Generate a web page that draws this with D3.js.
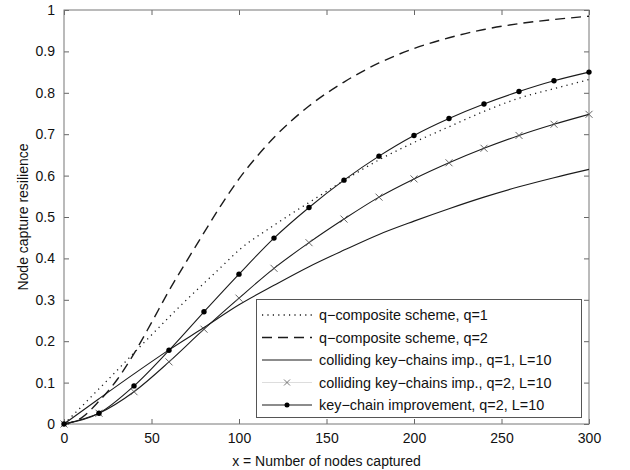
<!doctype html>
<html lang="en">
<head>
<meta charset="utf-8">
<title>Node capture resilience</title>
<script src="https://cdn.jsdelivr.net/npm/d3@7"></script>
<style>
body { margin: 0; background: #fff; }
text { font-family: "Liberation Sans", Arial, sans-serif; fill: #111; }
</style>
</head>
<body>
<script>

// values
var xDotted = [0, 10, 20, 30, 40, 50, 60, 70, 80, 90, 100, 120, 140, 160, 180, 200, 220, 240, 260, 280, 300];
var qComp1 = [0, 0.042, 0.085, 0.128, 0.172, 0.215, 0.258, 0.3, 0.34, 0.38, 0.42, 0.48, 0.535, 0.588, 0.638, 0.68, 0.718, 0.755, 0.787, 0.81, 0.832];

var xDashed = [0, 10, 20, 30, 40, 50, 60, 70, 80, 90, 100, 110, 120, 140, 160, 180, 200, 220, 240, 260, 280, 300];
var qComp2 = [0, 0.015, 0.055, 0.105, 0.17, 0.245, 0.322, 0.393, 0.462, 0.53, 0.592, 0.645, 0.692, 0.768, 0.826, 0.872, 0.907, 0.933, 0.953, 0.967, 0.977, 0.985];

var xMarks = [0, 20, 40, 60, 80, 100, 120, 140, 160, 180, 200, 220, 240, 260, 280, 300];
var collide1 = [0, 0.061, 0.121, 0.179, 0.233, 0.288, 0.335, 0.38, 0.42, 0.458, 0.49, 0.52, 0.548, 0.573, 0.595, 0.615];
var collide2 = [0, 0.026, 0.078, 0.15, 0.229, 0.304, 0.376, 0.438, 0.495, 0.548, 0.592, 0.631, 0.666, 0.697, 0.724, 0.748];
var keyChain = [0, 0.026, 0.092, 0.178, 0.271, 0.362, 0.449, 0.523, 0.589, 0.647, 0.697, 0.738, 0.773, 0.803, 0.829, 0.85];

var xTicks = [0, 50, 100, 150, 200, 250, 300];
var yTicks = [0, 0.1, 0.2, 0.3, 0.4, 0.5, 0.6, 0.7, 0.8, 0.9, 1];

var legendLabels = [
    "q\u2212composite scheme, q=1",
    "q\u2212composite scheme, q=2",
    "colliding key\u2212chains imp., q=1, L=10",
    "colliding key\u2212chains imp., q=2, L=10",
    "key\u2212chain improvement, q=2, L=10"
];

var width = 630, height = 470;
var margin = { left: 64, right: 41, top: 10, bottom: 46 };

var svg = d3.select("body").append("svg")
    .attr("width", width)
    .attr("height", height);

var x = d3.scaleLinear().domain([0, 300]).range([margin.left, width - margin.right]);
var y = d3.scaleLinear().domain([0, 1]).range([height - margin.bottom, margin.top]);

function zip(xs, ys) {
    return xs.map(function(d, i) { return [d, ys[i]]; });
}

var line = d3.line()
    .x(function(d) { return x(d[0]); })
    .y(function(d) { return y(d[1]); })
    .curve(d3.curveMonotoneX);

// frame + inward ticks, matlab style
var tickLen = 5;

svg.append("g")
    .attr("transform", "translate(0," + y(0) + ")")
    .call(d3.axisBottom(x).tickValues(xTicks).tickSizeInner(-tickLen).tickSizeOuter(0).tickPadding(9))
    .call(function(g) { g.select(".domain").remove(); });

svg.append("g")
    .attr("transform", "translate(0," + y(1) + ")")
    .call(d3.axisTop(x).tickValues(xTicks).tickSizeInner(-tickLen).tickSizeOuter(0).tickFormat(""))
    .call(function(g) { g.select(".domain").remove(); });

svg.append("g")
    .attr("transform", "translate(" + x(0) + ",0)")
    .call(d3.axisLeft(y).tickValues(yTicks).tickSizeInner(-tickLen).tickSizeOuter(0).tickPadding(9).tickFormat(d3.format("~g")))
    .call(function(g) { g.select(".domain").remove(); });

svg.append("g")
    .attr("transform", "translate(" + x(300) + ",0)")
    .call(d3.axisRight(y).tickValues(yTicks).tickSizeInner(-tickLen).tickSizeOuter(0).tickFormat(""))
    .call(function(g) { g.select(".domain").remove(); });

svg.selectAll(".tick line").attr("stroke", "#666");
svg.selectAll(".tick text")
    .style("font-family", "'Liberation Sans', Arial, sans-serif")
    .style("font-size", "14px")
    .attr("fill", "#111");

svg.append("rect")
    .attr("x", x(0)).attr("y", y(1))
    .attr("width", x(300) - x(0)).attr("height", y(0) - y(1))
    .attr("fill", "none").attr("stroke", "#777").attr("stroke-width", 1);

// curves
var ink = "#1b1b1b";

svg.append("path").datum(zip(xDotted, qComp1))
    .attr("d", line).attr("fill", "none").attr("stroke", ink)
    .attr("stroke-width", 1.3).attr("stroke-dasharray", "1.2,4.2");

svg.append("path").datum(zip(xDashed, qComp2))
    .attr("d", line).attr("fill", "none").attr("stroke", ink)
    .attr("stroke-width", 1.4).attr("stroke-dasharray", "10,6");

svg.append("path").datum(zip(xMarks, collide1))
    .attr("d", line).attr("fill", "none").attr("stroke", ink).attr("stroke-width", 1.1);

svg.append("path").datum(zip(xMarks, collide2))
    .attr("d", line).attr("fill", "none").attr("stroke", ink).attr("stroke-width", 1.1);

svg.append("path").datum(zip(xMarks, keyChain))
    .attr("d", line).attr("fill", "none").attr("stroke", ink).attr("stroke-width", 1.1);

function cross(g, cx, cy, s, color) {
    g.append("path")
        .attr("d", "M" + (cx - s) + "," + (cy - s) + "L" + (cx + s) + "," + (cy + s) +
                   "M" + (cx - s) + "," + (cy + s) + "L" + (cx + s) + "," + (cy - s))
        .attr("stroke", color).attr("stroke-width", 0.9).attr("fill", "none");
}

var crosses = svg.append("g");
zip(xMarks, collide2).forEach(function(d) {
    cross(crosses, x(d[0]), y(d[1]), 3.5, "#555");
});

svg.append("g").selectAll("circle")
    .data(zip(xMarks, keyChain))
    .enter().append("circle")
    .attr("cx", function(d) { return x(d[0]); })
    .attr("cy", function(d) { return y(d[1]); })
    .attr("r", 2.7)
    .attr("fill", "#000");

// legend
var lg = svg.append("g");
lg.append("rect")
    .attr("x", 256.5).attr("y", 299.5)
    .attr("width", 325).attr("height", 118)
    .attr("fill", "#fff").attr("stroke", "#555").attr("stroke-width", 1);

var rowY = d3.scaleLinear().domain([0, 4]).range([315, 405]);
var sx0 = 262, sx1 = 312;

legendLabels.forEach(function(label, i) {
    var yy = rowY(i);
    var seg = lg.append("line")
        .attr("x1", sx0).attr("x2", sx1).attr("y1", yy).attr("y2", yy)
        .attr("stroke", ink).attr("stroke-width", 1.1);
    if (i === 0) seg.attr("stroke-dasharray", "1.2,4.2").attr("stroke-width", 1.3);
    if (i === 1) seg.attr("stroke-dasharray", "10,6").attr("stroke-width", 1.4);
    if (i === 3) seg.attr("stroke", "#ddd");
    if (i === 3) cross(lg, (sx0 + sx1) / 2, yy, 3, "#666");
    if (i === 4) lg.append("circle").attr("cx", (sx0 + sx1) / 2).attr("cy", yy).attr("r", 2.5).attr("fill", "#000");
    lg.append("text")
        .attr("x", 319).attr("y", yy + 5)
        .style("font-size", "14.4px")
        .text(label);
});

// axis titles
svg.append("text")
    .attr("x", (x(0) + x(300)) / 2).attr("y", 466)
    .attr("text-anchor", "middle")
    .style("font-size", "14px")
    .text("x = Number of nodes captured");

svg.append("text")
    .attr("transform", "translate(28," + ((y(0) + y(1)) / 2) + ") rotate(-90)")
    .attr("text-anchor", "middle")
    .style("font-size", "14px")
    .text("Node capture resilience");

</script>
</body>
</html>
